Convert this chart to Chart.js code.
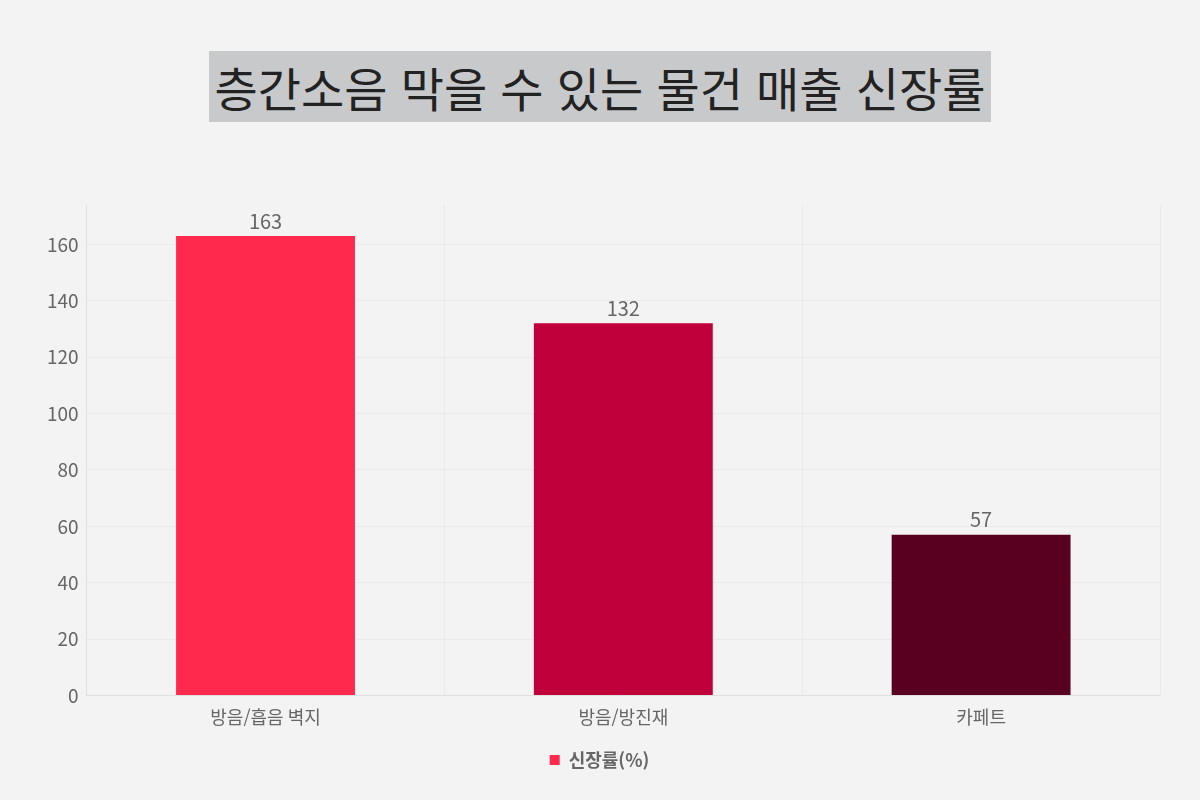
<!DOCTYPE html>
<html lang="ko">
<head>
<meta charset="utf-8">
<script src="https://cdn.jsdelivr.net/npm/chart.js@4/dist/chart.umd.min.js"></script>
<style>
  html, body { margin: 0; padding: 0; }
  body {
    width: 1200px; height: 800px; overflow: hidden; position: relative;
    background: #f3f3f3;
    font-family: "Noto Sans CJK KR", "Noto Sans", sans-serif;
  }
  #title {
    position: absolute; left: 209px; top: 51px; width: 782px; height: 71px;
    background: #c8c9ca; color: #222;
    font-size: 47px; font-weight: 400; line-height: 71px; text-align: center;
    white-space: nowrap;
  }
  #wrap { position: absolute; left: 0; top: 150px; width: 1200px; height: 650px; }
</style>
</head>
<body>
<div id="title">층간소음 막을 수 있는 물건 매출 신장률</div>
<div id="wrap"><canvas id="chart"></canvas></div>
<script>
const categories = ["방음/흡음 벽지", "방음/방진재", "카페트"];
const growth = [163, 132, 57];
const barColors = ["#ff284d", "#c0003a", "#590020"];
const seriesName = "신장률(%)";

// draw value above every bar
const valueLabels = {
  id: "valueLabels",
  afterDatasetsDraw(chart) {
    const ctx = chart.ctx;
    ctx.save();
    ctx.font = '20px "Noto Sans CJK KR"';
    ctx.fillStyle = "#666";
    ctx.textAlign = "center";
    ctx.textBaseline = "bottom";
    chart.getDatasetMeta(0).data.forEach((bar, i) => {
      ctx.fillText(growth[i], bar.x, bar.y - 5);
    });
    ctx.restore();
  }
};

const ctx = document.getElementById("chart").getContext("2d");
new Chart(ctx, {
  type: "bar",
  data: {
    labels: categories,
    datasets: [{
      label: seriesName,
      data: growth,
      backgroundColor: barColors,
      barPercentage: 0.5,
      categoryPercentage: 1
    }]
  },
  options: {
    responsive: true,
    maintainAspectRatio: false,
    animation: false,
    layout: { padding: { left: 39, right: 40, top: 55, bottom: 21 } },
    scales: {
      x: {
        grid: { color: "rgba(0,0,0,0.035)", drawTicks: false },
        border: { color: "rgba(0,0,0,0.05)" },
        ticks: { color: "#666", font: { size: 18, family: "Noto Sans CJK KR" }, padding: 11 }
      },
      y: {
        min: 0,
        max: 174,
        afterBuildTicks: (scale) => {
          scale.ticks = scale.ticks.filter(t => t.value % 20 === 0);
        },
        ticks: { stepSize: 20, color: "#666", font: { size: 19, family: "Noto Sans CJK KR" }, padding: 8 },
        grid: { color: "rgba(0,0,0,0.035)", drawTicks: false },
        border: { color: "rgba(0,0,0,0.05)" }
      }
    },
    plugins: {
      legend: {
        position: "bottom",
        labels: {
          color: "#666",
          padding: 12,
          font: { size: 18, weight: "bold", family: "Noto Sans CJK KR" },
          boxWidth: 10, boxHeight: 10,
          generateLabels: () => [{
            text: seriesName, fillStyle: barColors[0], strokeStyle: barColors[0],
            fontColor: "#666", lineWidth: 0
          }]
        }
      },
      tooltip: { enabled: false }
    }
  },
  plugins: [valueLabels]
});
</script>
</body>
</html>
